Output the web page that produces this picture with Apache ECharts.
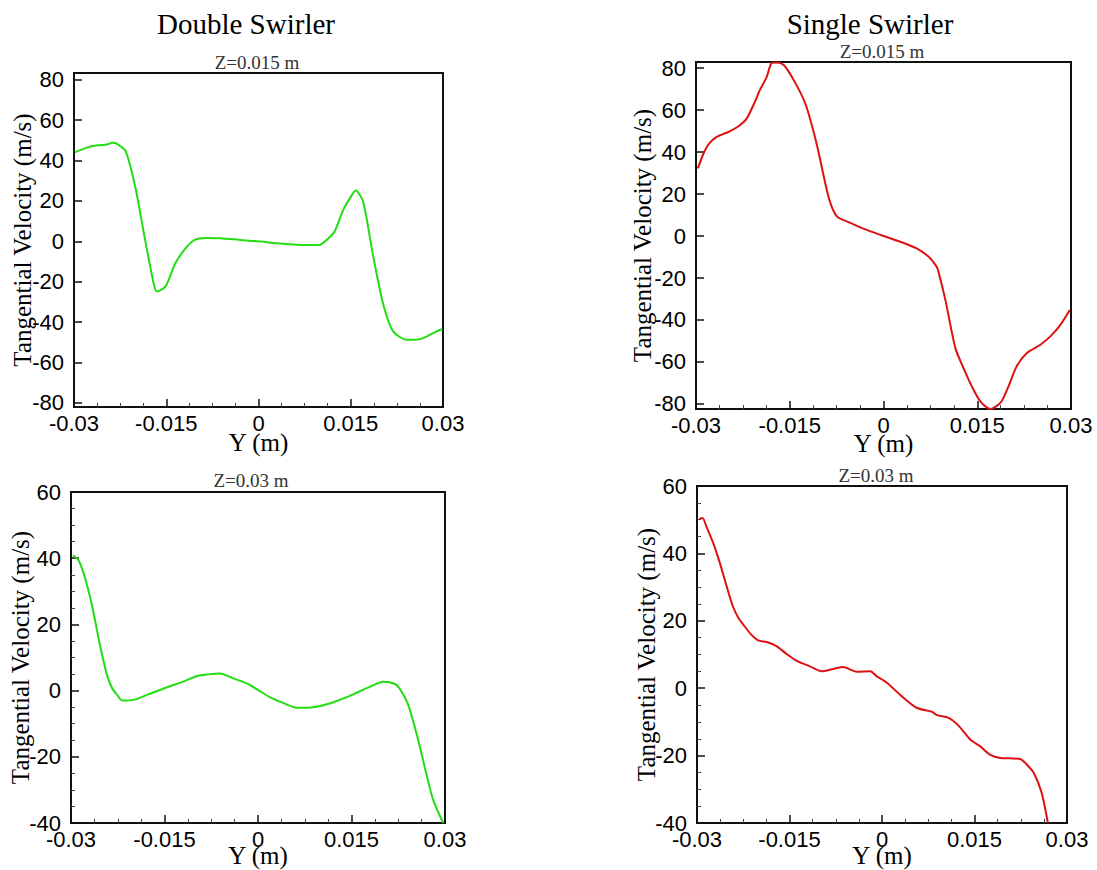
<!DOCTYPE html>
<html>
<head>
<meta charset="utf-8">
<script src="https://cdn.jsdelivr.net/npm/echarts@6/dist/echarts.min.js"></script>
<style>
html,body{margin:0;padding:0;background:#fff;}
#chart{width:1097px;height:870px;}
</style>
</head>
<body>
<div id="chart"></div>
<script>
// ---------- DATA ----------
const columnTitles = ['Double Swirler', 'Single Swirler'];
const panelTitles = ['Z=0.015 m', 'Z=0.015 m', 'Z=0.03 m', 'Z=0.03 m'];
const xTicks = [-0.03, -0.015, 0, 0.015, 0.03];
const yTicksTop = [-80, -60, -40, -20, 0, 20, 40, 60, 80];
const yTicksBottom = [-40, -20, 0, 20, 40, 60];

// Double swirler, Z=0.015 m
const doubleZ015_Y = [-0.0299,-0.0278,-0.0262,-0.0246,-0.0237,-0.0230,-0.0216,-0.0200,-0.0186,-0.0170,-0.0165,-0.0151,-0.0135,-0.0116,-0.0103,-0.0086,-0.0062,-0.0030,0,0.0030,0.0068,0.0097,0.0103,0.0116,0.0124,0.0138,0.0149,0.0158,0.0170,0.0186,0.0203,0.0219,0.0241,0.0254,0.0268,0.0284,0.0299];
const doubleZ015_V = [44,46.5,47.5,47.9,48.8,48.2,44.6,26.4,3.3,-21.5,-24.8,-22.3,-10.7,-2.5,0.8,1.65,1.5,0.7,0,-1,-1.8,-1.8,-1.3,2.1,5,15.7,21.5,25.2,19.8,-6.6,-31.4,-44.6,-48.7,-48.7,-47.9,-45.4,-43.4];

// Single swirler, Z=0.015 m
const singleZ015_Y = [-0.0297,-0.0288,-0.0280,-0.0267,-0.0246,-0.0232,-0.0219,-0.0206,-0.0198,-0.0187,-0.0179,-0.0171,-0.0160,-0.0144,-0.0125,-0.0107,-0.0088,-0.0075,-0.0053,-0.0027,0,0.0027,0.0053,0.0072,0.0085,0.0088,0.0099,0.0115,0.0128,0.0144,0.0157,0.0171,0.0179,0.0189,0.0200,0.0213,0.0229,0.0251,0.0267,0.0283,0.0298];
const singleZ015_V = [32.2,39.3,43.7,47.2,49.9,52.3,55.9,63.8,69.4,75.7,82.4,82.7,81.6,74.5,63,44,18.7,9.5,6.3,2.9,0,-2.7,-5.9,-9.8,-14.6,-17,-30.4,-53.4,-62.9,-73.2,-79.5,-82.4,-81.4,-78.7,-71.6,-62.1,-55.8,-51.8,-47.8,-42.3,-35.2];

// Double swirler, Z=0.03 m
const doubleZ03_Y = [-0.0297,-0.0288,-0.0278,-0.0267,-0.0253,-0.0243,-0.0234,-0.0226,-0.0218,-0.0199,-0.0178,-0.0146,-0.0120,-0.0098,-0.0080,-0.0061,-0.0040,-0.0016,0,0.0019,0.0041,0.0062,0.0089,0.0116,0.0148,0.0180,0.0201,0.0220,0.0228,0.0241,0.0257,0.0271,0.0281,0.0297];
const doubleZ03_V = [40.9,39.4,34.4,26.3,13.3,5.2,0.7,-1.3,-3,-2.8,-1.3,1,2.7,4.4,4.9,5.2,3.7,2,0.2,-2,-3.8,-5.2,-5,-3.8,-1.5,1.2,2.7,2,0.4,-4.3,-14.9,-25.9,-33,-40];

// Single swirler, Z=0.03 m
const singleZ03_Y = [-0.0296,-0.0291,-0.0285,-0.0274,-0.0263,-0.0252,-0.0242,-0.0233,-0.0223,-0.0212,-0.0201,-0.0187,-0.0171,-0.0155,-0.0139,-0.0117,-0.0098,-0.0079,-0.0063,-0.0041,-0.0019,-0.0009,0.0008,0.0029,0.0056,0.0081,0.0089,0.0108,0.0124,0.0143,0.0159,0.0175,0.0192,0.0224,0.0235,0.0246,0.0259,0.0269];
const singleZ03_V = [50.3,50.5,48.1,43.2,37.2,30.3,24.4,20.9,18.4,15.9,14.2,13.7,12.5,10.2,8.2,6.5,5,5.7,6.3,4.9,5,3.6,1.6,-1.9,-5.8,-7,-8,-8.8,-11.1,-15.2,-17.2,-19.7,-20.7,-21,-22.7,-25.1,-31.1,-40];

// ---------- LAYOUT / STYLE ----------
const SANS = "'Liberation Sans', Arial, sans-serif";
const SERIF = "'Liberation Serif', 'Times New Roman', serif";
const GREEN = '#22dd11';
const RED = '#dd1111';

const panels = [
  {grid:{left:74, top:73, width:369, height:334}, yMin:-82, yMax:83.3, custom:true, x:doubleZ015_Y, v:doubleZ015_V, color:GREEN, tx:257, ty:62, yGap:39, xGap:23},
  {grid:{left:696, top:62, width:375, height:347}, yMin:-82.4, yMax:82.9, custom:true, x:singleZ015_Y, v:singleZ015_V, color:RED, tx:882, ty:51, yGap:41, xGap:22},
  {grid:{left:71, top:492, width:374, height:331}, yMin:-40, yMax:60, custom:false, x:doubleZ03_Y, v:doubleZ03_V, color:GREEN, tx:251, ty:480, yGap:38, xGap:20},
  {grid:{left:697, top:486, width:370, height:337}, yMin:-40, yMax:60, custom:false, x:singleZ03_Y, v:singleZ03_V, color:RED, tx:876, ty:475, yGap:38, xGap:20}
];

function fmtX(v){
  if (Math.abs(v) < 1e-12) return '0';
  return String(parseFloat(v.toFixed(4)));
}

const grids = [], xAxes = [], yAxes = [], series = [];
const titles = [
  {text: columnTitles[0], left: 246, top: 24},
  {text: columnTitles[1], left: 870, top: 24}
].map(t => ({text:t.text, left:t.left, top:t.top, textAlign:'center', textVerticalAlign:'middle', padding:0,
  textStyle:{fontFamily:SERIF, fontSize:29, fontWeight:'normal', color:'#000'}}));

panels.forEach((p, i) => {
  grids.push(Object.assign({show:true, borderColor:'#111', borderWidth:2, backgroundColor:'transparent', outerBoundsMode:'none', containLabel:false}, p.grid));
  titles.push({text: panelTitles[i], left:p.tx, top:p.ty, textAlign:'center', textVerticalAlign:'middle', padding:0,
    textStyle:{fontFamily:SERIF, fontSize:19, fontWeight:'normal', color:'#333'}});
  xAxes.push({
    type:'value', gridIndex:i, min:-0.03, max:0.03, interval:0.015,
    name:'Y (m)', nameLocation:'middle', nameGap:p.xGap, nameMoveOverlap:false,
    nameTextStyle:{fontFamily:SERIF, fontSize:25, lineHeight:25, color:'#000'},
    axisLine:{show:false, onZero:false},
    axisTick:{show:true, inside:true, length:8, lineStyle:{color:'#111', width:1.5}},
    minorTick:{show:true, splitNumber:4, length:4, lineStyle:{color:'#444', width:1}},
    splitLine:{show:false},
    axisLabel:{fontFamily:SANS, fontSize:22, color:'#000', margin:5, formatter:fmtX, showMinLabel:true, showMaxLabel:true, hideOverlap:false}
  });
  const y = {
    type:'value', gridIndex:i, min:p.yMin, max:p.yMax,
    name:'Tangential Velocity (m/s)', nameLocation:'middle', nameGap:p.yGap, nameMoveOverlap:false,
    nameTextStyle:{fontFamily:SERIF, fontSize:25, color:'#000'},
    axisLine:{show:false, onZero:false},
    splitLine:{show:false},
    axisTick:{show:true, inside:true, length:8, lineStyle:{color:'#111', width:1.5}},
    axisLabel:{fontFamily:SANS, fontSize:22, color:'#000', margin:10, showMinLabel:true, showMaxLabel:true, hideOverlap:false}
  };
  if (p.custom) {
    y.axisTick.customValues = yTicksTop;
    y.axisLabel.customValues = yTicksTop;
    y.minorTick = {show:false};
  } else {
    y.interval = 20;
    y.minorTick = {show:true, splitNumber:4, length:4, lineStyle:{color:'#444', width:1}};
  }
  yAxes.push(y);
  series.push({
    type:'line', xAxisIndex:i, yAxisIndex:i, showSymbol:false, symbol:'none', smooth:0.25,
    clip:true, lineStyle:{color:p.color, width:2}, itemStyle:{color:p.color},
    data: p.x.map((xv, k) => [xv, p.v[k]]),
    animation:false
  });
});

const chart = echarts.init(document.getElementById('chart'), null, {renderer:'svg'});
chart.setOption({
  backgroundColor:'#fff',
  animation:false,
  title: titles,
  grid: grids,
  xAxis: xAxes,
  yAxis: yAxes,
  series: series
});
</script>
</body>
</html>
